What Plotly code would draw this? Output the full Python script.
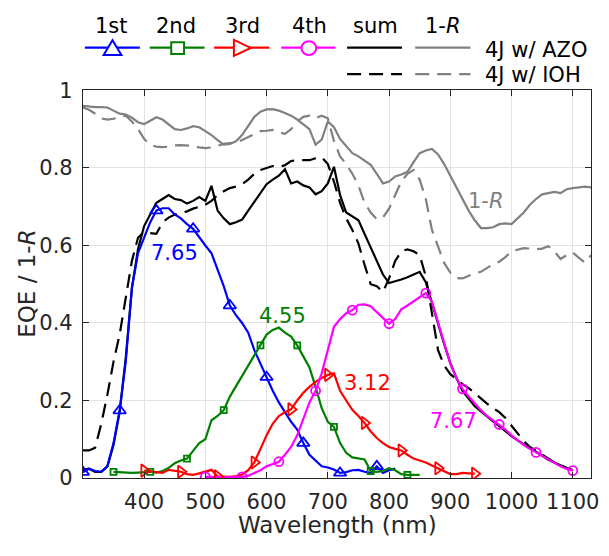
import plotly.graph_objects as go

# ---------------- data ----------------
wl_1st = list(range(300, 820, 10))
eqe_1st = [0.015, 0.024, 0.018, 0.016, 0.03, 0.09, 0.174, 0.30, 0.49, 0.58,
           0.62, 0.66, 0.69, 0.696, 0.696, 0.68, 0.67, 0.655, 0.643, 0.62,
           0.60, 0.58, 0.54, 0.495, 0.445, 0.42, 0.40, 0.375, 0.33, 0.295,
           0.26, 0.225, 0.195, 0.17, 0.145, 0.125, 0.09, 0.06, 0.045, 0.03,
           0.027, 0.022, 0.013, 0.015, 0.02, 0.021, 0.016, 0.013, 0.03, 0.013,
           0.02, 0.024]

wl_2nd = list(range(350, 860, 10))
eqe_2nd = [0.016, 0.015, 0.014, 0.013, 0.014, 0.015, 0.016, 0.014, 0.018, 0.026,
           0.038, 0.045, 0.05, 0.07, 0.09, 0.10, 0.149, 0.16, 0.175, 0.21,
           0.237, 0.264, 0.29, 0.315, 0.342, 0.37, 0.382, 0.388, 0.375, 0.365,
           0.342, 0.315, 0.285, 0.235, 0.18, 0.145, 0.132, 0.09, 0.065, 0.053,
           0.05, 0.048, 0.018, 0.016, 0.018, 0.025, 0.02, 0.01, 0.008, 0.008,
           0.008]

wl_3rd = list(range(400, 950, 10))
eqe_3rd = [0.019, 0.017, 0.014, 0.013, 0.021, 0.018, 0.016, 0.01, 0.008, 0.012,
           0.016, 0.021, 0.004, 0.003, 0.003, 0.005, 0.009, 0.02, 0.04, 0.075,
           0.11, 0.14, 0.16, 0.17, 0.177, 0.2, 0.22, 0.235, 0.248, 0.258,
           0.266, 0.27, 0.225, 0.2, 0.176, 0.16, 0.142, 0.12, 0.103, 0.09,
           0.08, 0.075, 0.071, 0.06, 0.05, 0.045, 0.04, 0.032, 0.025, 0.018,
           0.01, 0.01, 0.013, 0.012, 0.011]

wl_4th = list(range(500, 1110, 10))
eqe_4th = [0.003, 0.002, 0.002, 0.002, 0.002, 0.003, 0.003, 0.006, 0.012, 0.02,
           0.03, 0.037, 0.042, 0.06, 0.08, 0.11, 0.155, 0.195, 0.225, 0.27,
           0.33, 0.39, 0.41, 0.425, 0.433, 0.447, 0.448, 0.443, 0.428, 0.412,
           0.398, 0.41, 0.435, 0.445, 0.455, 0.465, 0.477, 0.455, 0.40, 0.345,
           0.295, 0.258, 0.23, 0.21, 0.192, 0.175, 0.16, 0.148, 0.138, 0.125,
           0.11, 0.097, 0.085, 0.075, 0.066, 0.055, 0.046, 0.038, 0.03, 0.023,
           0.019]

wl_sum = list(range(300, 1110, 10))
sum_azo = [0.021, 0.024, 0.016, 0.016, 0.03, 0.085, 0.17, 0.31, 0.49, 0.59,
           0.65, 0.68, 0.71, 0.72, 0.73, 0.72, 0.717, 0.708, 0.715, 0.725,
           0.715, 0.754, 0.69, 0.67, 0.655, 0.66, 0.667, 0.69, 0.713, 0.735,
           0.758, 0.77, 0.78, 0.797, 0.76, 0.765, 0.755, 0.75, 0.732, 0.74,
           0.76, 0.803, 0.73, 0.685, 0.675, 0.665, 0.63, 0.595, 0.56, 0.525,
           0.503, 0.507, 0.512, 0.518, 0.525, 0.532, 0.505, 0.45, 0.395, 0.345,
           0.297, 0.258, 0.225, 0.205, 0.185, 0.172, 0.158, 0.146, 0.134, 0.12,
           0.108, 0.097, 0.086, 0.076, 0.068, 0.057, 0.047, 0.04, 0.032, 0.025,
           0.02]
sum_ioh = [0.071, 0.071, 0.078, 0.14, 0.215, 0.30, 0.37, 0.46, 0.56, 0.62,
           0.635, 0.632, 0.63, 0.66, 0.672, 0.68, 0.684, 0.688, 0.695, 0.70,
           0.705, 0.715, 0.73, 0.74, 0.748, 0.752, 0.758, 0.77, 0.785, 0.795,
           0.80, 0.805, 0.803, 0.807, 0.818, 0.82, 0.82, 0.82, 0.825, 0.828,
           0.81, 0.765, 0.71, 0.67, 0.64, 0.605, 0.55, 0.50, 0.495, 0.48,
           0.515, 0.56, 0.585, 0.59, 0.585, 0.575, 0.52, 0.43, 0.33, 0.29,
           0.268, 0.255, 0.242, 0.232, 0.218, 0.205, 0.192, 0.18, 0.17, 0.155,
           0.135, 0.112, 0.095, 0.08, 0.07, 0.058, 0.048, 0.04, 0.033, 0.026,
           0.02]

wl_r = list(range(300, 1140, 10))
one_minus_r_azo = [0.960, 0.958, 0.957, 0.957, 0.956, 0.948, 0.940, 0.938, 0.930, 0.918,
                   0.913, 0.922, 0.931, 0.925, 0.912, 0.900, 0.898, 0.902, 0.908, 0.905,
                   0.895, 0.885, 0.872, 0.860, 0.862, 0.869, 0.885, 0.910, 0.932, 0.945,
                   0.951, 0.952, 0.948, 0.942, 0.935, 0.925, 0.912, 0.900, 0.860, 0.873,
                   0.920, 0.905, 0.875, 0.855, 0.838, 0.830, 0.820, 0.808, 0.785, 0.760,
                   0.765, 0.778, 0.783, 0.790, 0.815, 0.838, 0.845, 0.849, 0.835, 0.810,
                   0.780, 0.750, 0.720, 0.690, 0.665, 0.645, 0.645, 0.647, 0.655, 0.657,
                   0.655, 0.670, 0.685, 0.705, 0.720, 0.732, 0.735, 0.738, 0.735, 0.745,
                   0.748, 0.750, 0.752, 0.750]
one_minus_r_ioh = [0.956, 0.950, 0.940, 0.928, 0.925, 0.927, 0.932, 0.935, 0.920, 0.900,
                   0.875, 0.860, 0.855, 0.854, 0.855, 0.858, 0.859, 0.858, 0.857, 0.853,
                   0.851, 0.853, 0.858, 0.862, 0.864, 0.866, 0.872, 0.880, 0.888, 0.895,
                   0.896, 0.898, 0.892, 0.888, 0.900, 0.920, 0.932, 0.935, 0.928, 0.935,
                   0.928, 0.870, 0.830, 0.810, 0.785, 0.755, 0.710, 0.685, 0.668, 0.672,
                   0.695, 0.730, 0.765, 0.785, 0.795, 0.770, 0.720, 0.640, 0.600, 0.555,
                   0.530, 0.516, 0.515, 0.522, 0.528, 0.532, 0.542, 0.552, 0.558, 0.570,
                   0.585, 0.590, 0.593, 0.592, 0.590, 0.592, 0.598, 0.585, 0.565, 0.575,
                   0.582, 0.568, 0.556, 0.575]

x_ticks = [400, 500, 600, 700, 800, 900, 1000, 1100]
y_ticks = [0, 0.2, 0.4, 0.6, 0.8, 1]
y_ticktext = ["0", "0.2", "0.4", "0.6", "0.8", "1"]

jsc_labels = ["7.65", "4.55", "3.12", "7.67"]
jsc_pos_x = [450, 626, 764, 906]
jsc_pos_y = [0.58, 0.417, 0.244, 0.148]

legend_headers = ["1st", "2nd", "3rd", "4th", "sum", "1-<i>R</i>"]
legend_rows = ["4J w/ AZO", "4J w/ IOH"]

# ---------------- styling ----------------
W, H = 609, 556
L, R, T, B = 84, 599, 82, 487
FONT = "DejaVu Sans"
BLUE, GREEN, RED, MAG, BLK, GRAY = "#0000FF", "#008000", "#FF0000", "#FF00FF", "#000000", "#808080"
LW = 2.2
DASH = "14px,8px"
STEP = 6  # marker every 6th point

fig = go.Figure()

def add_line(x, y, color, dash="solid"):
    fig.add_trace(go.Scatter(x=x, y=y, mode="lines",
                             line=dict(color=color, width=LW, dash=dash),
                             showlegend=False, hoverinfo="skip"))

def add_markers(x, y, color, symbol, size):
    fig.add_trace(go.Scatter(x=x[::STEP], y=y[::STEP], mode="markers",
                             marker=dict(symbol=symbol, size=size, color=color,
                                         line=dict(color=color, width=1.8)),
                             showlegend=False, hoverinfo="skip"))

add_line(wl_r, one_minus_r_azo, GRAY)
add_line(wl_r, one_minus_r_ioh, GRAY, dash=DASH)
add_line(wl_sum, sum_azo, BLK)
add_line(wl_sum, sum_ioh, BLK, dash=DASH)
add_line(wl_1st, eqe_1st, BLUE)
add_line(wl_2nd, eqe_2nd, GREEN)
add_line(wl_3rd, eqe_3rd, RED)
add_line(wl_4th, eqe_4th, MAG)
add_markers(wl_1st, eqe_1st, BLUE, "triangle-up-open", 11)
add_markers(wl_2nd, eqe_2nd, GREEN, "square-open", 6)
add_markers(wl_3rd, eqe_3rd, RED, "triangle-right-open", 11)
add_markers(wl_4th, eqe_4th, MAG, "circle-open", 9)

def pxx(x):
    return x / W

def pxy(y):
    return 1 - y / H

def note(x, y, text, color, size=21, ref="paper", **kw):
    d = dict(x=x, y=y, xref=ref if ref == "paper" else "x", yref=ref if ref == "paper" else "y",
             text=text, showarrow=False, xanchor="center", yanchor="middle",
             font=dict(family=FONT, size=size, color=color))
    d.update(kw)
    return d

annotations = []
for txt, xx, yy, c in zip(jsc_labels, jsc_pos_x, jsc_pos_y, [BLUE, GREEN, RED, MAG]):
    annotations.append(note(xx, yy, txt, c, ref="data"))
annotations.append(note(958, 0.714, "1-<i>R</i>", GRAY, ref="data"))

# axis titles
annotations.append(note(pxx((L + R) / 2), pxy(536), "Wavelength (nm)", "#262626", size=23))
annotations.append(note(pxx(28), pxy((T + B) / 2), "EQE / 1-<i>R</i>", "#262626", size=23,
                        textangle=-90))

# custom legend
shapes = []
head_x = [112.5, 178, 246, 314, 381, 448.5]
seg = [(86, 141.7), (151.7, 207.3), (217, 273), (285, 340), (351.7, 407.3), (420.7, 476.7)]
row1_y, row2_y, head_y = 37.3, 65, 15
row_cols = [BLUE, GREEN, RED, MAG, BLK, GRAY]
for hx, txt in zip(head_x, legend_headers):
    annotations.append(note(pxx(hx), pxy(head_y), txt, "#000000"))
for (x0, x1), c in zip(seg, row_cols):
    shapes.append(dict(type="line", xref="paper", yref="paper", x0=pxx(x0), x1=pxx(x1),
                       y0=pxy(row1_y), y1=pxy(row1_y), line=dict(color=c, width=LW)))
for (x0, x1), c in zip(seg[4:], row_cols[4:]):
    shapes.append(dict(type="line", xref="paper", yref="paper", x0=pxx(x0), x1=pxx(x1),
                       y0=pxy(row2_y), y1=pxy(row2_y), line=dict(color=c, width=LW, dash=DASH)))

def path(points):
    return "M " + " L ".join(f"{pxx(a):.5f},{pxy(b):.5f}" for a, b in points) + " Z"

shapes.append(dict(type="path", xref="paper", yref="paper",
                   path=path([(105, 45), (123, 45), (114, 29.5)]),
                   fillcolor="white", line=dict(color=BLUE, width=2)))
shapes.append(dict(type="rect", xref="paper", yref="paper",
                   x0=pxx(173.5), x1=pxx(186.5), y0=pxy(31.5), y1=pxy(44),
                   fillcolor="white", line=dict(color=GREEN, width=2)))
shapes.append(dict(type="path", xref="paper", yref="paper",
                   path=path([(237, 29), (237, 46), (254, 37.5)]),
                   fillcolor="white", line=dict(color=RED, width=2)))
shapes.append(dict(type="circle", xref="paper", yref="paper",
                   x0=pxx(305.5), x1=pxx(320.5), y0=pxy(30.5), y1=pxy(45),
                   fillcolor="white", line=dict(color=MAG, width=2)))
for txt, yy in zip(legend_rows, [39.3, 66]):
    annotations.append(note(pxx(489.5), pxy(yy), txt, "#000000", xanchor="left"))

axis_common = dict(showgrid=True, gridcolor="#e3e3e3", gridwidth=1,
                   showline=True, linecolor="#262626", linewidth=1, mirror="ticks",
                   ticks="inside", ticklen=6, tickcolor="#262626", tickwidth=1,
                   zeroline=False, tickfont=dict(family=FONT, size=21, color="#262626"))

fig.update_layout(
    width=W, height=H,
    margin=dict(l=0, r=0, t=0, b=0),
    paper_bgcolor="white", plot_bgcolor="white",
    xaxis=dict(domain=[L / W, R / W], range=[300, 1130], tickvals=x_ticks,
               ticklabelstandoff=5, **axis_common),
    yaxis=dict(domain=[1 - B / H, 1 - T / H], range=[0, 1], tickvals=y_ticks,
               ticktext=y_ticktext, ticklabelstandoff=5, **axis_common),
    annotations=annotations,
    shapes=shapes,
    showlegend=False,
)

fig.write_html("out.html",
               config={"displayModeBar": False},
               post_script="document.documentElement.style.margin='0';"
                           "document.body.style.margin='0';"
                           "document.body.style.overflow='hidden';")
